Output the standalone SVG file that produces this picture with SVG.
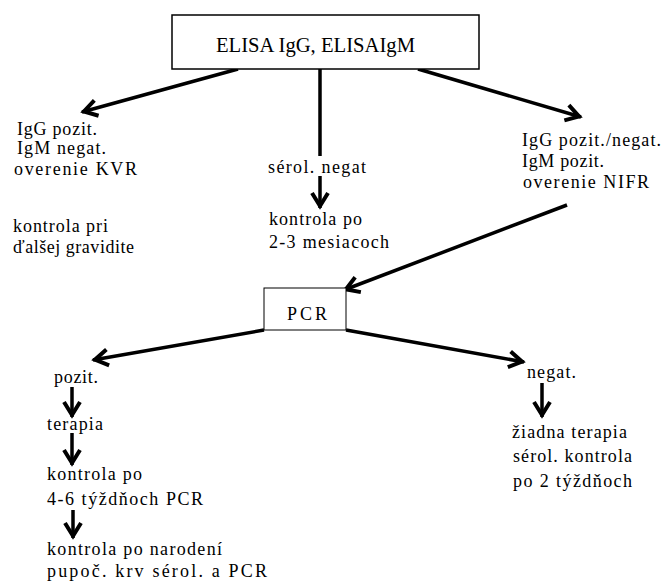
<svg xmlns="http://www.w3.org/2000/svg" width="663" height="582" viewBox="0 0 663 582">
<defs>
<style>
text{font-family:"Liberation Serif","DejaVu Serif",serif;font-size:18px;fill:#000}
.title{font-size:22px}
.box{fill:#fff;stroke:#000}
.c{stroke:#000;stroke-width:3.5;fill:none}
.h{marker-end:url(#ah)}
</style>
<marker id="ah" markerUnits="userSpaceOnUse" viewBox="-18 -12 24 24" markerWidth="24" markerHeight="24" refX="2" refY="0" orient="auto">
<path d="M-13,-8 L0,0 L-13,8" fill="none" stroke="#000" stroke-width="4"/>
</marker>
</defs>
<rect width="663" height="582" fill="#fff"/>
<g id="connectors">
<line class="c h" x1="238" y1="69" x2="82" y2="112"/>
<line class="c" x1="320" y1="69" x2="320" y2="156" stroke-width="3"/>
<line class="c h" x1="320" y1="176" x2="320" y2="208"/>
<line class="c h" x1="418" y1="69" x2="581" y2="117"/>
<line class="c h" x1="567" y1="205" x2="344" y2="290"/>
<line class="c h" x1="264" y1="330" x2="93" y2="360"/>
<line class="c h" x1="346" y1="330" x2="524" y2="362"/>
<line class="c h" x1="72" y1="387" x2="72" y2="417"/>
<line class="c h" x1="72" y1="433" x2="72" y2="465"/>
<line class="c h" x1="73" y1="510" x2="73" y2="538"/>
<line class="c h" x1="542" y1="383" x2="542" y2="417"/>
</g>
<g id="elisa">
<rect class="box" x="172" y="15" width="307" height="54" stroke-width="1.5"/>
<text class="title" x="216" y="52" textLength="199" lengthAdjust="spacingAndGlyphs">ELISA IgG, ELISAIgM</text>
</g>
<g id="igg-pozit">
<text x="17" y="135" textLength="80" lengthAdjust="spacing">IgG pozit.</text>
<text x="17" y="154" textLength="89" lengthAdjust="spacing">IgM negat.</text>
<text x="14" y="175" textLength="123" lengthAdjust="spacing">overenie KVR</text>
</g>
<g id="kontrola-pri">
<text x="13" y="232" textLength="95" lengthAdjust="spacing">kontrola pri</text>
<text x="13" y="253" textLength="121" lengthAdjust="spacing">ďalšej gravidite</text>
</g>
<g id="serol-negat">
<text x="268" y="173" textLength="98" lengthAdjust="spacing">sérol. negat</text>
</g>
<g id="kontrola-2-3">
<text x="269" y="225" textLength="93" lengthAdjust="spacing">kontrola po</text>
<text x="269" y="248" textLength="120" lengthAdjust="spacing">2-3 mesiacoch</text>
</g>
<g id="igm-pozit">
<text x="522" y="146" textLength="139" lengthAdjust="spacing">IgG pozit./negat.</text>
<text x="522" y="167" textLength="82" lengthAdjust="spacing">IgM pozit.</text>
<text x="523" y="188" textLength="126" lengthAdjust="spacing">overenie NIFR</text>
</g>
<g id="pcr">
<rect class="box" x="264" y="288" width="82" height="42" stroke-width="1"/>
<text x="287" y="320" textLength="40" lengthAdjust="spacing">PCR</text>
</g>
<g id="pozit">
<text x="54" y="383" textLength="44" lengthAdjust="spacing">pozit.</text>
</g>
<g id="terapia">
<text x="47" y="430" textLength="56" lengthAdjust="spacing">terapia</text>
</g>
<g id="kontrola-4-6">
<text x="47" y="480" textLength="95" lengthAdjust="spacing">kontrola po</text>
<text x="47" y="505" textLength="156" lengthAdjust="spacing">4-6 týždňoch PCR</text>
</g>
<g id="kontrola-narodeni">
<text x="47" y="555" textLength="175" lengthAdjust="spacing">kontrola po narodení</text>
<text x="47" y="577" textLength="220" lengthAdjust="spacing">pupoč. krv sérol. a PCR</text>
</g>
<g id="negat">
<text x="527" y="378" textLength="49" lengthAdjust="spacing">negat.</text>
</g>
<g id="ziadna-terapia">
<text x="512" y="438" textLength="115" lengthAdjust="spacing">žiadna terapia</text>
<text x="513" y="462" textLength="119" lengthAdjust="spacing">sérol. kontrola</text>
<text x="513" y="487" textLength="119" lengthAdjust="spacing">po 2 týždňoch</text>
</g>
</svg>
